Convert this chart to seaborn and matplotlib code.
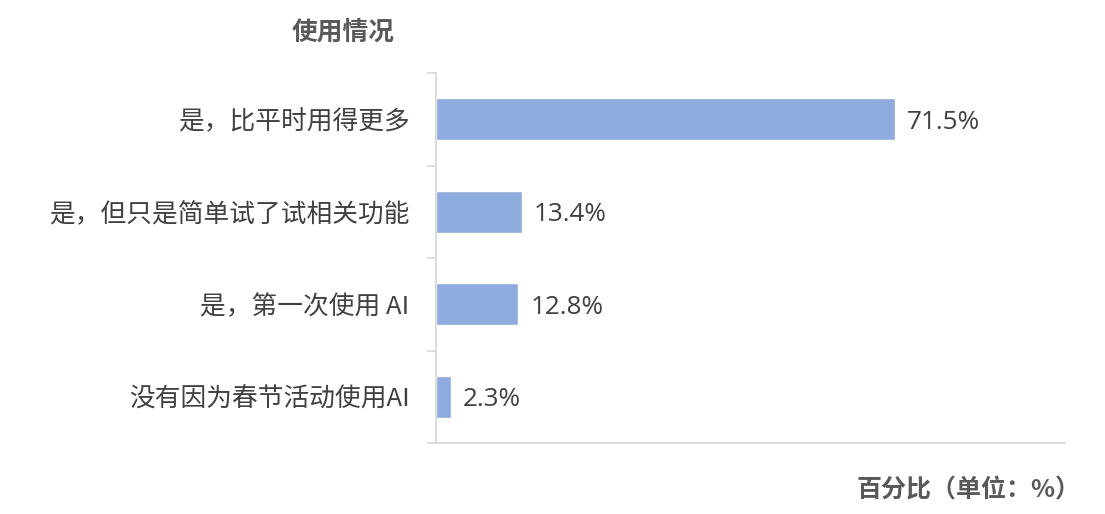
import matplotlib
matplotlib.use("Agg")
import matplotlib.pyplot as plt
import seaborn as sns
import pandas as pd

categories = ["是，比平时用得更多", "是，但只是简单试了试相关功能", "是，第一次使用 AI", "没有因为春节活动使用AI"]
values = [71.5, 13.4, 12.8, 2.3]
value_labels = ["71.5%", "13.4%", "12.8%", "2.3%"]

df = pd.DataFrame({"category": categories, "value": values})

sns.set_theme(style="white")
plt.rcParams["font.family"] = ["Noto Sans CJK SC", "DejaVu Sans"]

fig = plt.figure(figsize=(11.05, 5.14), dpi=100)
ax = fig.add_axes([0.3946, 0.138, 0.5692, 0.720])

sns.barplot(data=df, y="category", x="value", orient="h", color="#8FAADC",
            width=0.45, saturation=1, ax=ax)

ax.set_xlim(0, 98)
ax.set_ylim(3.5, -0.5)
ax.set_xlabel("")
ax.set_ylabel("")
ax.set_xticks([])

ax.tick_params(axis="y", which="major", length=0, pad=19, labelsize=18.5, labelcolor="#404040")
ax.set_yticks([-0.5, 0.5, 1.5, 2.5, 3.5], minor=True)
ax.tick_params(axis="y", which="minor", left=True, length=6.5, width=1.3, color="#D9D9D9")

for side in ["top", "right"]:
    ax.spines[side].set_visible(False)
for side in ["left", "bottom"]:
    ax.spines[side].set_color("#D9D9D9")
    ax.spines[side].set_linewidth(1.3)

# percent labels right of each bar
for p, lab in zip(ax.patches, value_labels):
    ax.annotate(lab, (p.get_width(), p.get_y() + p.get_height() / 2),
                xytext=(12, -3), textcoords="offset pixels", va="center", ha="left",
                fontsize=18.8, color="#404040", family=["Open Sans", "DejaVu Sans"])

fig.text(343 / 1105, 1 - 32 / 514, "使用情况", ha="center", va="center",
         fontsize=18.5, fontweight="bold", color="#595959")
fig.text(1081 / 1105, 1 - 490 / 514, "百分比（单位：%）", ha="right", va="center",
         fontsize=18, fontweight="bold", color="#595959")

fig.savefig("out.png", dpi=100)
